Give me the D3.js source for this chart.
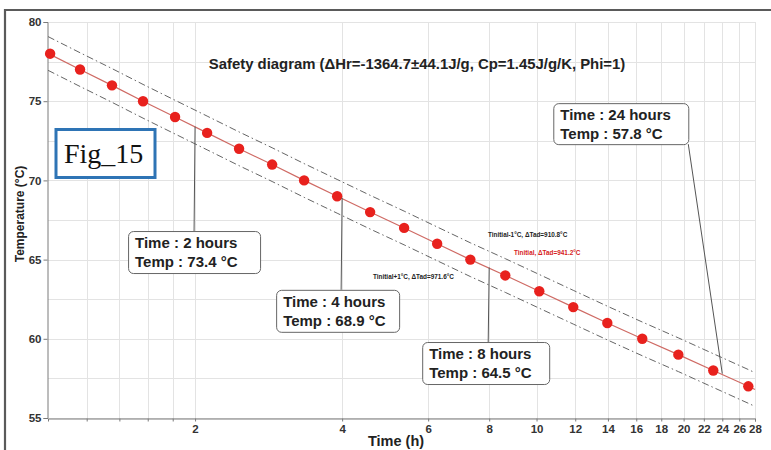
<!DOCTYPE html>
<html>
<head>
<meta charset="utf-8">
<script src="https://cdn.jsdelivr.net/npm/d3@7"></script>
<style>
  html, body { margin: 0; padding: 0; background: #fff; }
  svg { display: block; font-family: "Liberation Sans", Arial, sans-serif; }
</style>
</head>
<body>
<svg id="chart" width="771" height="450"></svg>
<script>
// Adiabatic runaway safety diagram: temperature reached vs. time to maximum rate.
const markerTemps = [78, 77, 76, 75, 74, 73, 72, 71, 70, 69, 68, 67, 66, 65, 64, 63, 62, 61, 60, 59, 58, 57];
const markerTimes = [1.01, 1.163, 1.352, 1.565, 1.82, 2.117, 2.461, 2.876, 3.344, 3.907, 4.564, 5.358,
                     6.26, 7.32, 8.63, 10.13, 11.89, 13.96, 16.46, 19.51, 23.0, 27.13];

// Curve through the markers, carried to the right edge of the axis
const curveTimes = [1.0, 1.163, 1.352, 1.565, 1.82, 2.117, 2.461, 2.876, 3.344, 3.907, 4.564, 5.358,
                    6.26, 7.32, 8.63, 10.13, 11.89, 13.96, 16.46, 19.51, 23.0, 27.13, 28];
const curveTemps = [78.02, 77, 76, 75, 74, 73, 72, 71, 70, 69, 68, 67, 66, 65, 64, 63, 62, 61, 60, 59, 58, 57, 56.8];

// Bounding curves (Tinitial -1 °C above, Tinitial +1 °C below)
const upperTemps = [79.08, 78.06, 77.06, 76.06, 75.06, 74.06, 73.06, 72.06, 71.06, 70.06, 69.06, 68.06,
                    67.06, 66.06, 65.06, 64.06, 63.06, 62.06, 61.06, 60.06, 59.06, 58.06, 57.86];
const lowerTemps = [76.95, 75.93, 74.93, 73.93, 72.93, 71.93, 70.93, 69.93, 68.93, 67.93, 66.93, 65.93,
                    64.93, 63.93, 62.93, 61.93, 60.93, 59.93, 58.93, 57.93, 56.93, 55.93, 55.73];

const yTicks = [55, 60, 65, 70, 75, 80];
const yGrid = [55, 57.5, 60, 62.5, 65, 67.5, 70, 72.5, 75, 77.5, 80];
const xTickLabels = [2, 4, 6, 8, 10, 12, 14, 16, 18, 20, 22, 24, 26, 28];
const xMinorGrid = [1.2, 1.4, 1.6, 1.8];

const calloutTimes = [2, 4, 8, 24];
const calloutTemps = [73.4, 68.9, 64.5, 57.8];

const titleText = "Safety diagram (\u0394Hr=-1364.7\u00b144.1J/g, Cp=1.45J/g/K, Phi=1)";
const curveLabels = [
  "Tinitial-1\u00b0C, \u0394Tad=910.8\u00b0C",
  "Tinitial, \u0394Tad=941.2\u00b0C",
  "Tinitial+1\u00b0C, \u0394Tad=971.6\u00b0C"
];

const svg = d3.select("#chart");

const x = d3.scaleLog().domain([1, 28]).range([48, 755]);
const y = d3.scaleLinear().domain([55, 80]).range([418, 22]);

// Outer frame (top and left edges visible)
svg.append("path")
  .attr("d", "M5,451 L5,10 L772,10")
  .attr("fill", "none").attr("stroke", "#5a5a5a").attr("stroke-width", 2.2);

// Grid
const grid = svg.append("g").attr("stroke", "#e3e3e3").attr("stroke-width", 1);
grid.selectAll("line.h").data(yGrid).join("line")
  .attr("x1", x(1)).attr("x2", x(28))
  .attr("y1", d => Math.round(y(d)) + 0.5).attr("y2", d => Math.round(y(d)) + 0.5);
grid.selectAll("line.v").data(xMinorGrid.concat(xTickLabels)).join("line")
  .attr("x1", d => Math.round(x(d)) + 0.5).attr("x2", d => Math.round(x(d)) + 0.5)
  .attr("y1", y(80)).attr("y2", y(55));

// Axes
const yAxis = d3.axisLeft(y).tickValues(yTicks).tickSize(4).tickPadding(2).tickFormat(d3.format("d"));
const gy = svg.append("g").attr("transform", "translate(47.5,0)").call(yAxis);
gy.select(".domain").attr("stroke", "#7a7a7a");
gy.selectAll(".tick line").attr("stroke", "#7a7a7a");
gy.selectAll(".tick text").attr("fill", "#333").attr("font-size", "11.5px").attr("font-weight", "bold")
  .attr("font-family", "Liberation Sans, Arial, sans-serif");

const xAxis = d3.axisBottom(x).tickValues(xMinorGrid.concat(xTickLabels)).tickSize(3).tickPadding(3)
  .tickFormat(d => xTickLabels.includes(d) ? d3.format("d")(d) : "");
const gx = svg.append("g").attr("transform", "translate(0,418.5)").call(xAxis);
gx.select(".domain").attr("stroke", "#7a7a7a");
gx.selectAll(".tick line").attr("stroke", "#7a7a7a");
gx.selectAll(".tick text").attr("fill", "#333").attr("font-size", "11.5px").attr("font-weight", "bold")
  .attr("font-family", "Liberation Sans, Arial, sans-serif");

// Axis titles
svg.append("text")
  .attr("x", 396).attr("y", 446).attr("text-anchor", "middle")
  .attr("font-size", "14.5px").attr("font-weight", "bold").attr("fill", "#222")
  .text("Time (h)");
svg.append("text")
  .attr("transform", "translate(24,214) rotate(-90)").attr("text-anchor", "middle")
  .attr("font-size", "12px").attr("font-weight", "bold").attr("fill", "#222")
  .text("Temperature (\u00b0C)");

// Title
svg.append("text")
  .attr("x", 417).attr("y", 69).attr("text-anchor", "middle")
  .attr("font-size", "14.9px").attr("font-weight", "bold").attr("fill", "#222")
  .text(titleText);

// Curves
const line = d3.line().x(d => x(d[0])).y(d => y(d[1]));
const dashStyle = "7,3,1.5,3";
svg.append("path")
  .attr("d", line(d3.zip(curveTimes, upperTemps)))
  .attr("fill", "none").attr("stroke", "#666").attr("stroke-width", 1).attr("stroke-dasharray", dashStyle);
svg.append("path")
  .attr("d", line(d3.zip(curveTimes, lowerTemps)))
  .attr("fill", "none").attr("stroke", "#666").attr("stroke-width", 1).attr("stroke-dasharray", dashStyle);
svg.append("path")
  .attr("d", line(d3.zip(curveTimes, curveTemps)))
  .attr("fill", "none").attr("stroke", "#cf6a64").attr("stroke-width", 1.2);

svg.append("g").selectAll("circle").data(d3.zip(markerTimes, markerTemps)).join("circle")
  .attr("cx", d => x(d[0])).attr("cy", d => y(d[1])).attr("r", 5.2)
  .attr("fill", "#e8211d");

// Curve labels
const smallLabels = [
  { text: curveLabels[0], x: 488, y: 237, color: "#222" },
  { text: curveLabels[1], x: 514, y: 255, color: "#d62020" },
  { text: curveLabels[2], x: 373, y: 279, color: "#222" }
];
svg.append("g").selectAll("text").data(smallLabels).join("text")
  .attr("x", d => d.x).attr("y", d => d.y)
  .attr("font-size", "6.4px").attr("font-weight", "bold").attr("fill", d => d.color)
  .text(d => d.text);

// Callouts
const calloutLayout = [
  { dx: -67, dy: 104.5, w: 132, h: 42, from: "top" },
  { dx: -66, dy: 92, w: 123, h: 42, from: "top" },
  { dx: -67, dy: 74.5, w: 127, h: 42, from: "top" },
  { dx: -169, dy: -270.5, w: 135, h: 41, from: "corner" }
];
calloutTimes.forEach((t, i) => {
  const px = x(t), py = y(calloutTemps[i]);
  const L = calloutLayout[i];
  const bx = px + L.dx, by = py + L.dy;
  const g = svg.append("g");
  let sx, sy;
  if (L.from === "top") { sx = px - 1; sy = by; }
  else { sx = bx + L.w; sy = by + L.h; }
  g.append("line")
    .attr("x1", sx).attr("y1", sy).attr("x2", px).attr("y2", py)
    .attr("stroke", "#555").attr("stroke-width", 1);
  g.append("rect")
    .attr("x", bx + 0.5).attr("y", by + 0.5).attr("width", L.w).attr("height", L.h)
    .attr("rx", 5).attr("ry", 5)
    .attr("fill", "#fff").attr("stroke", "#666").attr("stroke-width", 1);
  const tx = g.append("text").attr("font-size", "15px").attr("font-weight", "bold").attr("fill", "#222");
  tx.append("tspan").attr("x", bx + 7).attr("y", by + 17).text(`Time : ${t} hours`);
  tx.append("tspan").attr("x", bx + 7).attr("y", by + 36).text(`Temp : ${calloutTemps[i]} \u00b0C`);
});

// Figure tag
svg.append("rect")
  .attr("x", 56).attr("y", 129.5).attr("width", 99).attr("height", 48)
  .attr("fill", "#fff").attr("stroke", "#2e74b5").attr("stroke-width", 3);
svg.append("text")
  .attr("x", 64).attr("y", 163)
  .attr("font-family", "Liberation Serif, 'Times New Roman', serif")
  .attr("font-size", "28px").attr("fill", "#111")
  .text("Fig_15");
</script>
</body>
</html>
